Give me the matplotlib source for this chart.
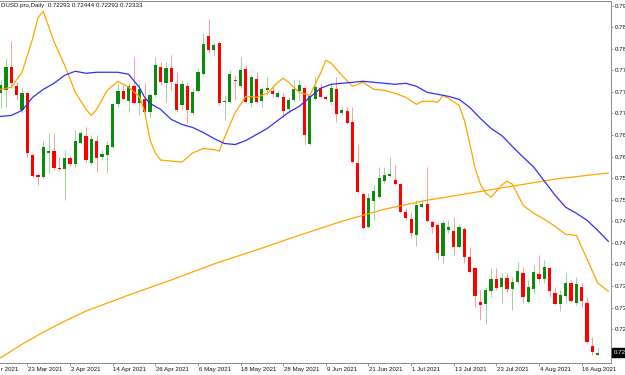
import numpy as np
import matplotlib
matplotlib.use("Agg")
import matplotlib.pyplot as plt
from matplotlib import transforms

# ---------------- data (AUDUSD.pro, Daily, 16 Mar 2021 .. 19 Aug 2021) ----------------
first_day = "2021-03-16"

opens = [0.7750, 0.7756, 0.7802, 0.7764, 0.7716, 0.7750, 0.7627, 0.7587, 0.7583, 0.7632,
         0.7635, 0.7601, 0.7599, 0.7621, 0.7609, 0.7652, 0.7664, 0.7611, 0.7656, 0.7623,
         0.7627, 0.7644, 0.7728, 0.7754, 0.7734, 0.7764, 0.7730, 0.7738, 0.7712, 0.7746,
         0.7802, 0.7770, 0.7800, 0.7768, 0.7726, 0.7764, 0.7710, 0.7754, 0.7788, 0.7865,
         0.7837, 0.7851, 0.7732, 0.7732, 0.7776, 0.7764, 0.7798, 0.7730, 0.7778, 0.7734,
         0.7756, 0.7754, 0.7742, 0.7742, 0.7718, 0.7736, 0.7754, 0.7760, 0.7650, 0.7738,
         0.7760, 0.7742, 0.7732, 0.7758, 0.7710, 0.7714, 0.7692, 0.7611, 0.7549, 0.7483,
         0.7535, 0.7543, 0.7575, 0.7585, 0.7577, 0.7569, 0.7513, 0.7499, 0.7467, 0.7523,
         0.7529, 0.7493, 0.7487, 0.7426, 0.7477, 0.7475, 0.7443, 0.7479, 0.7424, 0.7402,
         0.7334, 0.7330, 0.7356, 0.7380, 0.7364, 0.7382, 0.7360, 0.7374, 0.7392, 0.7334,
         0.7360, 0.7390, 0.7380, 0.7402, 0.7352, 0.7330, 0.7346, 0.7372, 0.7332, 0.7364,
         0.7332, 0.7246, 0.72293]
highs = [0.7776, 0.7820, 0.7855, 0.7772, 0.7762, 0.7752, 0.7631, 0.7591, 0.7656, 0.7670,
         0.7670, 0.7623, 0.7637, 0.7625, 0.7676, 0.7674, 0.7682, 0.7666, 0.7666, 0.7637,
         0.7656, 0.7730, 0.7770, 0.7766, 0.7770, 0.7822, 0.7770, 0.7772, 0.7750, 0.7822,
         0.7812, 0.7812, 0.7826, 0.7792, 0.7776, 0.7772, 0.7760, 0.7800, 0.7871, 0.7899,
         0.7851, 0.7855, 0.7746, 0.7796, 0.7786, 0.7822, 0.7806, 0.7786, 0.7792, 0.7762,
         0.7782, 0.7766, 0.7756, 0.7750, 0.7742, 0.7776, 0.7776, 0.7764, 0.7746, 0.7782,
         0.7770, 0.7746, 0.7770, 0.7782, 0.7722, 0.7722, 0.7722, 0.7650, 0.7551, 0.7551,
         0.7567, 0.7603, 0.7603, 0.7623, 0.7607, 0.7571, 0.7521, 0.7511, 0.7537, 0.7537,
         0.7603, 0.7497, 0.7491, 0.7497, 0.7497, 0.7503, 0.7489, 0.7483, 0.7443, 0.7404,
         0.7358, 0.7364, 0.7402, 0.7402, 0.7392, 0.7392, 0.7384, 0.7414, 0.7404, 0.7378,
         0.7408, 0.7428, 0.7418, 0.7404, 0.7364, 0.7358, 0.7392, 0.7378, 0.7384, 0.7372,
         0.7344, 0.7264, 0.72444]
lows = [0.7720, 0.7722, 0.7760, 0.7736, 0.7710, 0.7623, 0.7581, 0.7567, 0.7581, 0.7591,
        0.7597, 0.7597, 0.7537, 0.7605, 0.7603, 0.7650, 0.7611, 0.7607, 0.7593, 0.7617,
        0.7591, 0.7642, 0.7722, 0.7736, 0.7712, 0.7728, 0.7706, 0.7710, 0.7700, 0.7742,
        0.7766, 0.7732, 0.7756, 0.7712, 0.7716, 0.7690, 0.7706, 0.7752, 0.7786, 0.7830,
        0.7826, 0.7726, 0.7696, 0.7730, 0.7736, 0.7760, 0.7730, 0.7722, 0.7730, 0.7722,
        0.7746, 0.7742, 0.7740, 0.7700, 0.7710, 0.7732, 0.7736, 0.7650, 0.7648, 0.7736,
        0.7740, 0.7736, 0.7726, 0.7692, 0.7706, 0.7688, 0.7611, 0.7551, 0.7479, 0.7481,
        0.7497, 0.7541, 0.7571, 0.7583, 0.7567, 0.7511, 0.7497, 0.7461, 0.7445, 0.7521,
        0.7493, 0.7471, 0.7418, 0.7412, 0.7471, 0.7428, 0.7441, 0.7412, 0.7392, 0.7324,
        0.7298, 0.7290, 0.7344, 0.7358, 0.7332, 0.7354, 0.7318, 0.7372, 0.7332, 0.7332,
        0.7352, 0.7374, 0.7372, 0.7344, 0.7328, 0.7316, 0.7334, 0.7334, 0.7328, 0.7324,
        0.7252, 0.7229, 0.72293]
closes = [0.7766, 0.7802, 0.7770, 0.7746, 0.7750, 0.7631, 0.7585, 0.7583, 0.7644, 0.7634,
          0.7601, 0.7599, 0.7621, 0.7609, 0.7656, 0.7670, 0.7617, 0.7658, 0.7621, 0.7629,
          0.7648, 0.7728, 0.7754, 0.7738, 0.7764, 0.7730, 0.7758, 0.7712, 0.7746, 0.7806,
          0.7772, 0.7800, 0.7772, 0.7716, 0.7768, 0.7716, 0.7752, 0.7792, 0.7849, 0.7836,
          0.7847, 0.7730, 0.7734, 0.7788, 0.7774, 0.7796, 0.7732, 0.7782, 0.7732, 0.7758,
          0.7760, 0.7748, 0.7750, 0.7714, 0.7736, 0.7758, 0.7766, 0.7666, 0.7744, 0.7762,
          0.7742, 0.7738, 0.7760, 0.7708, 0.7716, 0.7690, 0.7613, 0.7553, 0.7481, 0.7541,
          0.7555, 0.7581, 0.7587, 0.7589, 0.7569, 0.7513, 0.7501, 0.7471, 0.7527, 0.7529,
          0.7495, 0.7483, 0.7432, 0.7491, 0.7483, 0.7443, 0.7483, 0.7424, 0.7394, 0.7346,
          0.7328, 0.7358, 0.7380, 0.7362, 0.7382, 0.7360, 0.7374, 0.7396, 0.7344, 0.7364,
          0.7394, 0.7380, 0.7404, 0.7356, 0.7330, 0.7348, 0.7372, 0.7336, 0.7370, 0.7336,
          0.7254, 0.7235, 0.72333]

# blue moving average (bar index, price)
blue_idx = [0, 2, 4, 6, 8, 10, 12, 14, 16, 18, 20, 22, 24, 26, 27, 28, 30, 32, 34, 36,
            38, 40, 42, 44, 46, 48, 50, 52, 54, 56, 58, 60, 62, 64, 66, 68, 70, 72, 74, 76,
            78, 80, 82, 84, 86, 88, 90, 92, 94, 96, 98, 100, 102, 104, 106, 108, 110, 112, 114]
blue_val = [0.7704, 0.7706, 0.7716, 0.7742, 0.7758, 0.7770, 0.7786, 0.7794, 0.7790, 0.7792,
            0.7792, 0.7792, 0.7788, 0.7762, 0.7742, 0.7730, 0.7718, 0.7698, 0.7688, 0.7682,
            0.7672, 0.7660, 0.7650, 0.7648, 0.7656, 0.7668, 0.7680, 0.7696, 0.7712, 0.7724,
            0.7742, 0.7760, 0.7768, 0.7770, 0.7772, 0.7774, 0.7772, 0.7770, 0.7768, 0.7770,
            0.7764, 0.7752, 0.7748, 0.7744, 0.7738, 0.7722, 0.7700, 0.7680, 0.7666, 0.7644,
            0.7623, 0.7603, 0.7575, 0.7547, 0.7523, 0.7511, 0.7497, 0.7477, 0.7455]

# fast orange moving average
fast_idx = [0, 2, 4, 6, 7, 8, 10, 12, 14, 16, 17, 18, 20, 22, 24, 26, 27, 28, 29, 30,
            32, 34, 36, 38, 40, 41, 42, 44, 46, 48, 50, 52, 53, 54, 56, 58, 60, 61, 62, 64,
            66, 68, 70, 72, 74, 76, 78, 79, 81, 82, 83, 84, 86, 87, 88, 89, 90, 91, 92, 94,
            95, 96, 98, 100, 102, 104, 106, 108, 110, 112, 114]
fast_val = [0.7758, 0.7762, 0.7792, 0.7859, 0.7901, 0.7913, 0.7853, 0.7806, 0.7752, 0.7718,
            0.7706, 0.7718, 0.7756, 0.7774, 0.7762, 0.7744, 0.7714, 0.7658, 0.7631, 0.7617,
            0.7615, 0.7613, 0.7631, 0.7640, 0.7638, 0.7635, 0.7662, 0.7712, 0.7744, 0.7742,
            0.7750, 0.7772, 0.7780, 0.7772, 0.7752, 0.7746, 0.7790, 0.7816, 0.7810, 0.7786,
            0.7764, 0.7772, 0.7758, 0.7756, 0.7750, 0.7742, 0.7728, 0.7734, 0.7734, 0.7732,
            0.7746, 0.7740, 0.7726, 0.7696, 0.7650, 0.7601, 0.7569, 0.7551, 0.7543, 0.7567,
            0.7575, 0.7569, 0.7527, 0.7511, 0.7499, 0.7485, 0.7469, 0.7467, 0.7420, 0.7372,
            0.7356]

# slow orange moving average
slow_idx = [0, 4, 8, 12, 16, 24, 32, 40, 48, 56, 64, 72, 80, 88, 96, 104, 112, 114]
slow_val = [0.7223, 0.7250, 0.7274, 0.7296, 0.7316, 0.7348, 0.7378, 0.7410, 0.7438, 0.7467,
            0.7495, 0.7519, 0.7537, 0.7551, 0.7565, 0.7579, 0.7589, 0.7591]

# date labels (the first one is cut by the left image edge in the reference: "r 2021")
date_labels = ["r 2021", "23 Mar 2021", "2 Apr 2021", "14 Apr 2021", "26 Apr 2021",
               "6 May 2021", "18 May 2021", "28 May 2021", "9 Jun 2021", "21 Jun 2021",
               "1 Jul 2021", "13 Jul 2021", "23 Jul 2021", "4 Aug 2021", "16 Aug 2021"]
date_values = ["2021-03-11", "2021-03-23", "2021-04-02", "2021-04-14", "2021-04-26",
               "2021-05-06", "2021-05-18", "2021-05-28", "2021-06-09", "2021-06-21",
               "2021-07-01", "2021-07-13", "2021-07-23", "2021-08-04", "2021-08-16"]

price_ticks = [0.7925, 0.7882, 0.7839, 0.7796, 0.7753, 0.7710, 0.7667, 0.7624, 0.7581,
               0.7538, 0.7495, 0.7452, 0.7409, 0.7366, 0.7323, 0.7280]

# visible part of the header (the "AU" is cut by the left edge in the reference)
title = "DUSD.pro,Daily  0.72293 0.72444 0.72293 0.72333"

# ---------------- drawing ----------------
W, H = 625, 375
FS = 4.4
plt.rcParams["font.family"] = ["Liberation Sans", "DejaVu Sans"]

fig = plt.figure(figsize=(W / 100, H / 100), dpi=100)
ax = fig.add_axes([0, 1 - 363 / H, 611 / W, 362.5 / H])

o = np.array(opens); h = np.array(highs); l = np.array(lows); c = np.array(closes)
x = np.arange(len(o))
up = c >= o
green, red = "#0b8a0b", "#ff0000"
cols = np.where(up, green, red)

ax.vlines(x, l, h, colors=cols, linewidth=0.6, alpha=0.45, zorder=2)
body_lo = np.minimum(o, c)
body_h = np.maximum(np.abs(c - o), 0.00022)
ax.bar(x, body_h, bottom=body_lo, width=0.6, color=cols, linewidth=0, zorder=3)

ax.plot(slow_idx, slow_val, color="#ffa500", lw=0.9, zorder=4)
ax.plot(fast_idx, fast_val, color="#ffa500", lw=0.9, zorder=4)
ax.plot(blue_idx, blue_val, color="#3030f0", lw=0.9, zorder=4)

ax.set_xlim(-0.13, 114.5)
ax.set_ylim(0.72126, 0.7935)

for s in ["top", "right", "bottom"]:
    ax.spines[s].set_color("#8a8a8a")
    ax.spines[s].set_linewidth(0.7)
ax.spines["left"].set_visible(False)

# price axis (only the visible "0.7x" part fits inside the image)
ax.yaxis.tick_right()
ax.set_yticks(price_ticks)
ax.set_yticklabels([f"{p:.5f}"[:4] for p in price_ticks])
ax.tick_params(axis="y", length=1.6, width=0.6, color="#8a8a8a", pad=0.8,
               labelsize=FS, labelcolor="#111111")

# date axis
pos = [int(np.busday_count(first_day, d)) for d in date_values]
ax.set_xticks([p for p in pos if p >= 0])
ax.set_xticklabels([])
ax.tick_params(axis="x", length=2.0, width=0.6, color="#8a8a8a")
bt = transforms.blended_transform_factory(ax.transData, ax.transAxes)
for p, lab in zip(pos, date_labels):
    xp = max(p + 0.15, 0.0)
    ax.text(xp, -6.2 / 362.5, lab, transform=bt, ha="left", va="center",
            fontsize=FS, color="#111111", clip_on=False)

# current price box
pt = transforms.blended_transform_factory(ax.transAxes, ax.transData)
ax.text(1.004, closes[-1], f"{closes[-1]:.5f}"[:4], transform=pt, ha="left", va="center",
        fontsize=FS, color="white", clip_on=False,
        bbox=dict(boxstyle="square,pad=0.3", fc="black", ec="black"))

# header
fig.text(0.6 / W, 1 - 5.8 / H, title, ha="left", va="center", fontsize=FS, color="#111111")

fig.savefig("out.png", dpi=100)
